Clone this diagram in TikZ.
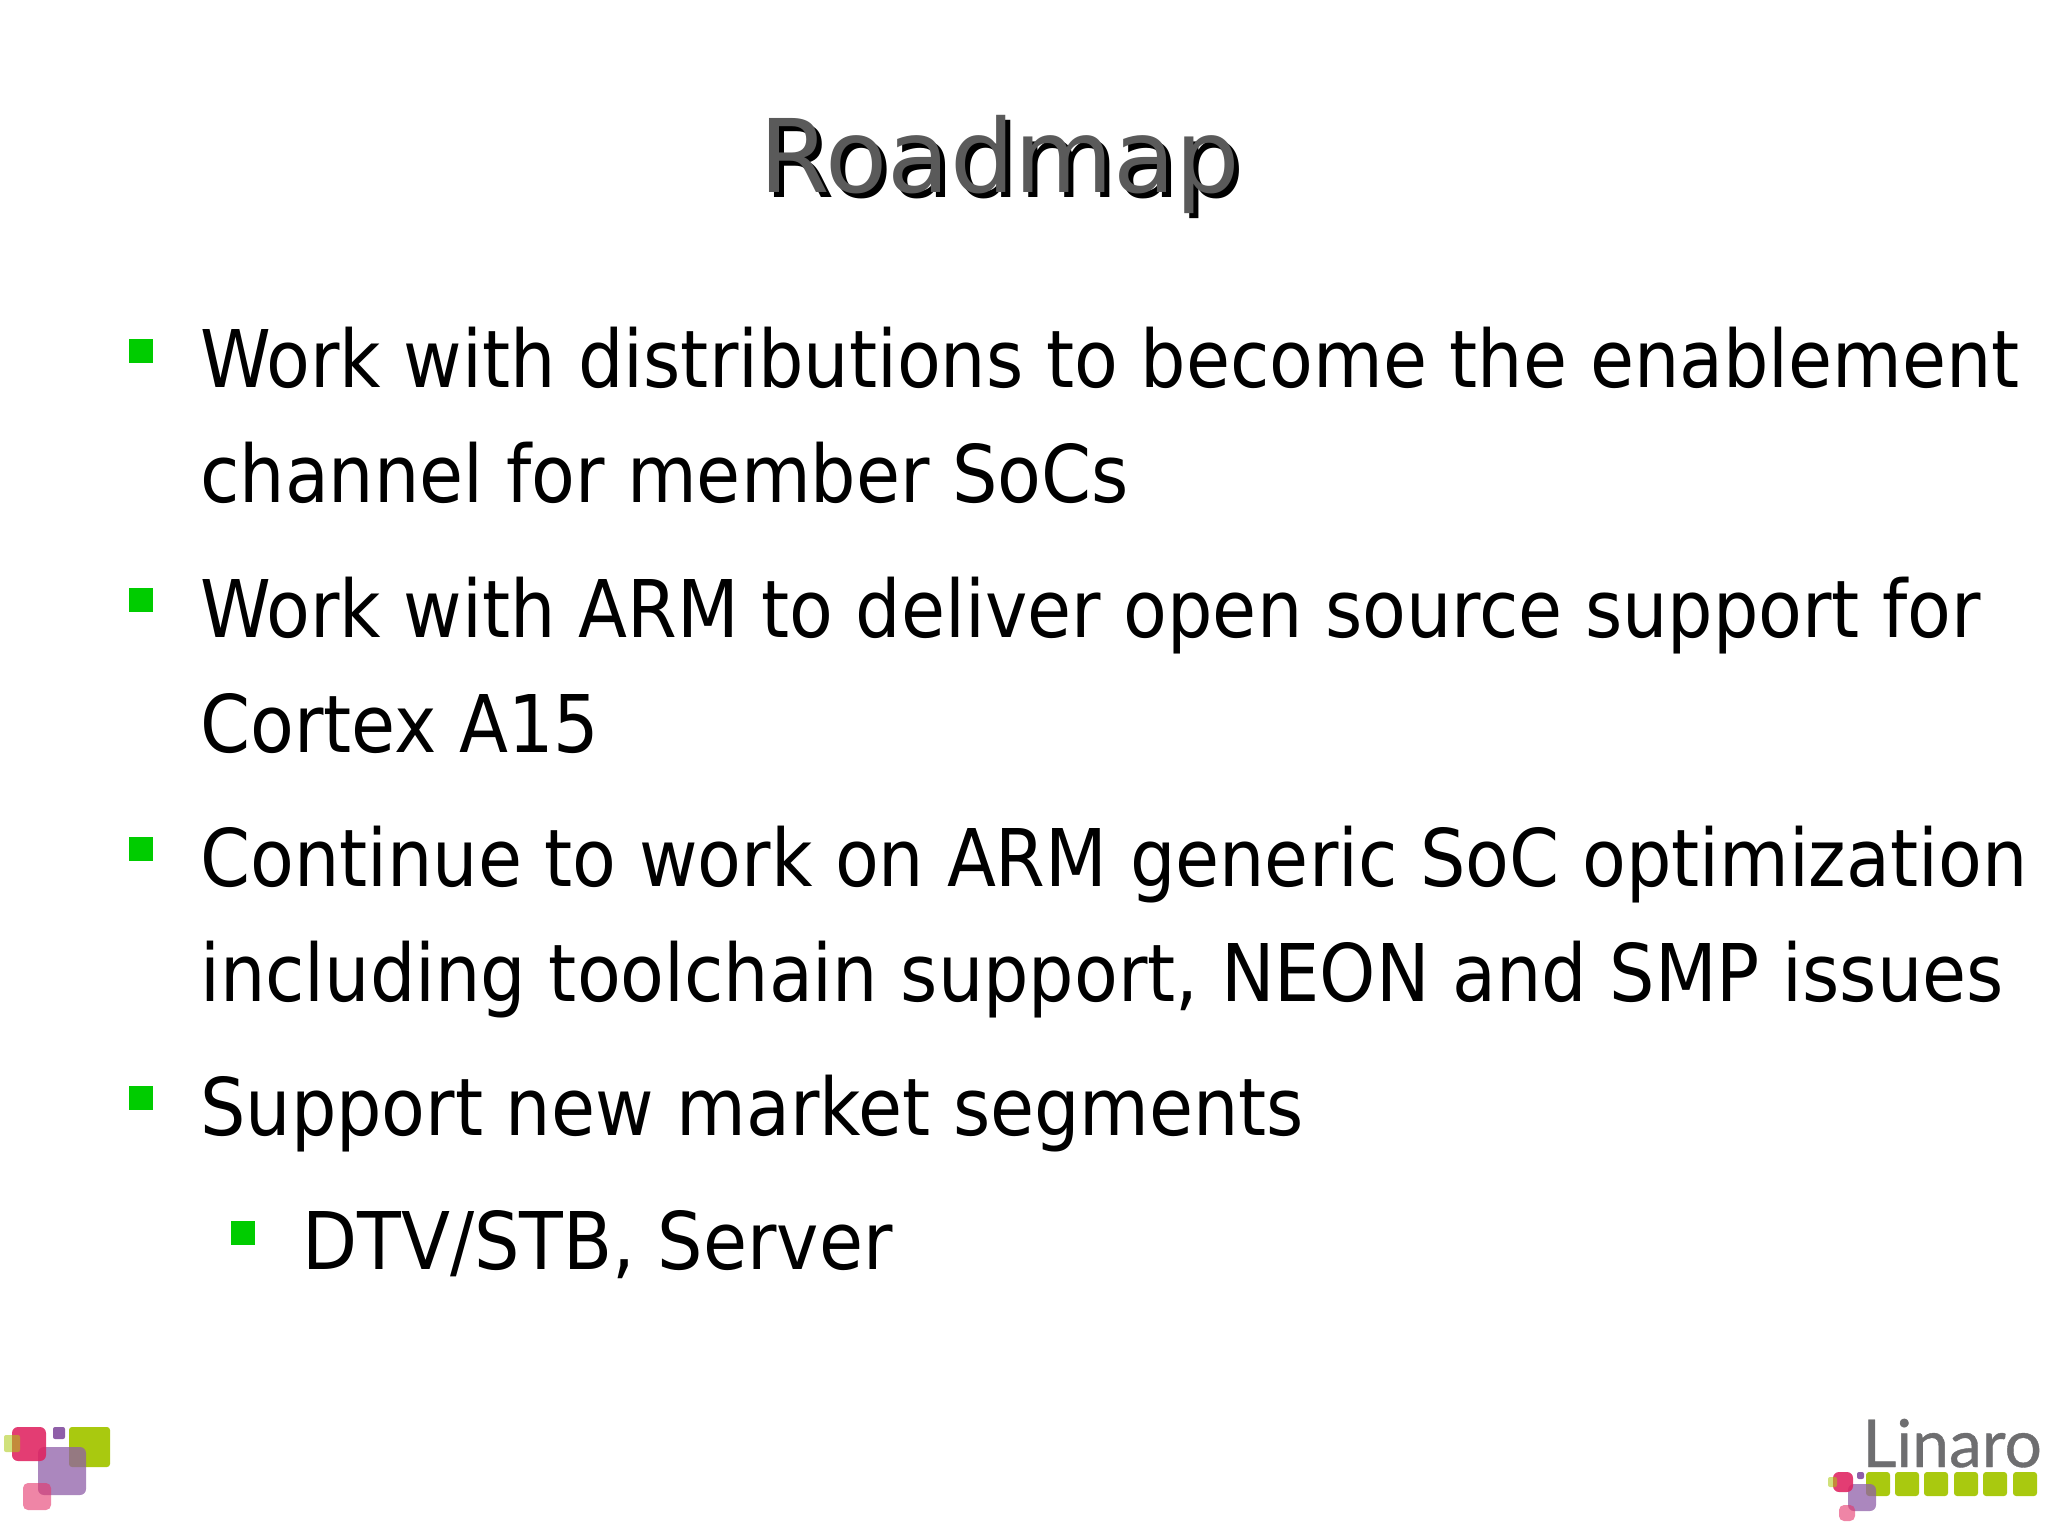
\documentclass[tikz,border=0pt]{standalone}
\usepackage{fontspec}
\setmainfont{DejaVu Sans Condensed}
\newfontfamily\titlefont{DejaVu Sans}
\newfontfamily\logofont[FakeBold=0.6]{Lato}
\usepackage{xcolor}
\usepackage{tikz}
\usetikzlibrary{positioning}
\definecolor{bulletgreen}{HTML}{00CC00}
\definecolor{titlegray}{HTML}{5A5A5A}
\definecolor{logogray}{HTML}{6E6E70}
\definecolor{logolime}{HTML}{A9C90F}
\definecolor{logored}{HTML}{E4346A}
\definecolor{logodeep}{HTML}{DF2260}
\definecolor{logopurple}{HTML}{8F5FA8}
\tikzset{x=0.5pt, y=-0.5pt}
\tikzstyle{body} = [inner sep=0, anchor=base west, font=\fontsize{39.77}{48}\selectfont]
\tikzstyle{headline} = [inner sep=0, anchor=base west, font=\titlefont\fontsize{50.8}{60}\selectfont]
\tikzstyle{bullet} = [fill=bulletgreen]
\tikzstyle{lime} = [fill=logolime, rounded corners=1.5pt]
\tikzstyle{limepale} = [fill=logolime, opacity=0.55, rounded corners=1pt]
\tikzstyle{redsq} = [fill=logodeep, opacity=0.88, rounded corners=3pt]
\tikzstyle{purplesq} = [fill=logopurple, opacity=0.75, rounded corners=3pt]
\tikzstyle{dotsq} = [fill=logopurple, rounded corners=1pt]
\tikzstyle{pinksq} = [fill=logored, opacity=0.6, rounded corners=2.5pt]
\begin{document}
\begin{tikzpicture}
\useasboundingbox (0, 0) rectangle (2048, 1536);
% title with its shadow
\node [headline, text=black] (titleshadow) at (764, 197) {Roadmap};
\node [headline, text=titlegray] (title) at (759, 192) {Roadmap};
% bullets
\foreach \ypos in {339, 588, 837, 1086} {
  \fill [bullet] (129, \ypos) rectangle ++(24, 24);
}
\fill [bullet] (231, 1221) rectangle ++(24, 24);
% text lines
\node [body] (lineA) at (200, 387) {Work with distributions to become the enablement};
\node [body] (lineB) at (200, 502) {channel for member SoCs};
\node [body] (lineC) at (200, 637) {Work with ARM to deliver open source support for};
\node [body] (lineD) at (200, 752) {Cortex A15};
\node [body] (lineE) at (200, 886) {Continue to work on ARM generic SoC optimization};
\node [body] (lineF) at (200, 1001) {including toolchain support, NEON and SMP issues};
\node [body] (lineG) at (200, 1135) {Support new market segments};
\node [body] (lineH) at (302, 1269) {DTV/STB, Server};
% logo, bottom left
\fill [lime] (69, 1427) rectangle (110, 1467);
\fill [purplesq] (38, 1447) rectangle (86, 1495);
\fill [redsq] (12, 1427) rectangle (46, 1461);
\fill [limepale] (4, 1435) rectangle (20, 1452);
\fill [dotsq] (53, 1427) rectangle (65, 1439);
\fill [pinksq] (23, 1483) rectangle (51, 1510);
% logo, bottom right
\node [inner sep=0, anchor=base west, text=logogray, font=\logofont\fontsize{33}{40}\selectfont] (linaro) at (1862, 1467) {Linaro};
\foreach \xpos in {1866, 1895, 1924, 1954, 1983, 2013} {
  \fill [lime] (\xpos, 1472) rectangle ++(24, 24);
}
\fill [purplesq] (1848, 1484) rectangle (1876, 1511);
\fill [redsq] (1833, 1472) rectangle (1853, 1492);
\fill [limepale] (1828, 1477) rectangle (1837, 1487);
\fill [dotsq] (1857, 1472) rectangle (1864, 1479);
\fill [pinksq] (1839, 1505) rectangle (1855, 1521);
\end{tikzpicture}
\end{document}
